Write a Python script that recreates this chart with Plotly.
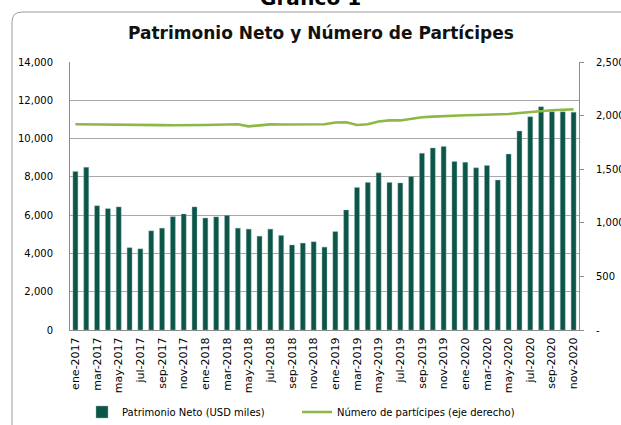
import plotly.graph_objects as go

# ---- data ----
month_abbr = ["ene", "feb", "mar", "abr", "may", "jun", "jul", "ago", "sep", "oct", "nov", "dic"]
years = [2017, 2018, 2019, 2020]
months = [f"{m}-{y}" for y in years for m in month_abbr][:47]  # ene-2017 .. nov-2020

patrimonio = [8280, 8500, 6490, 6340, 6430, 4300, 4240, 5180, 5320, 5920, 6060, 6430,
              5850, 5910, 5990, 5320, 5270, 4900, 5270, 4940, 4440, 4540, 4610, 4330,
              5140, 6270, 7450, 7710, 8210, 7710, 7680, 8020, 9230, 9510, 9590, 8800,
              8760, 8470, 8590, 7830, 9190, 10390, 11140, 11660, 11400, 11400, 11380]

participes = [1920, 1918, 1917, 1915, 1915, 1914, 1914, 1912, 1911, 1910, 1909, 1911,
              1913, 1914, 1916, 1919, 1900, 1910, 1918, 1917, 1918, 1918, 1920, 1920,
              1935, 1937, 1912, 1920, 1945, 1955, 1955, 1972, 1985, 1990, 1996, 2000,
              2003, 2005, 2007, 2009, 2015, 2025, 2035, 2045, 2050, 2055, 2058]

left_ticks = [0, 2000, 4000, 6000, 8000, 10000, 12000, 14000]
right_ticks = [0, 500, 1000, 1500, 2000, 2500]
right_ticktext = ["-", "500", "1,000", "1,500", "2,000", "2,500"]

BAR_COLOR = "#0C5548"
LINE_COLOR = "#8DB846"
GRID = "#A8A8A8"
FONT = "DejaVu Sans"

W, H = 621, 425
ML, MR, MT, MB = 70, 42, 62, 95
PW, PH = W - ML - MR, H - MT - MB


def px_x(px):
    return (px - ML) / PW


def px_y(py):
    return (H - MB - py) / PH


fig = go.Figure()
fig.add_trace(go.Bar(
    x=months, y=patrimonio, name="Patrimonio Neto (USD miles)",
    marker=dict(color=BAR_COLOR, line=dict(color="rgba(150,190,180,0.7)", width=0.6)),
    yaxis="y", legend="legend",
))
fig.add_trace(go.Scatter(
    x=months, y=participes, name="Número de partícipes (eje derecho)",
    mode="lines", line=dict(color=LINE_COLOR, width=2.6), yaxis="y2", legend="legend2",
))

# rounded frame
x0 = px_x(12); yt = px_y(12); r = 10
dx, dy = r / PW, r / PH
xr = px_x(660); yb = px_y(470)
frame_path = (f"M {x0},{yb} L {x0},{yt - dy} Q {x0},{yt} {x0 + dx},{yt} L {xr},{yt}")

legend_common = dict(
    orientation="h", xref="container", yref="container", xanchor="left",
    y=(H - 412) / H, yanchor="middle", font=dict(family=FONT, size=10),
    bgcolor="rgba(0,0,0,0)",
)

fig.update_layout(
    width=W, height=H,
    margin=dict(l=ML, r=MR, t=MT, b=MB, autoexpand=False),
    paper_bgcolor="white", plot_bgcolor="white",
    font=dict(family=FONT, size=10, color="#000000"),
    bargap=0.54,
    showlegend=True,
    legend=dict(x=82 / W, **legend_common),
    legend2=dict(x=297 / W, **legend_common),
    xaxis=dict(
        type="category", tickvals=months[::2], ticktext=months[::2], tickangle=-90,
        tickfont=dict(family=FONT, size=11), showgrid=False, showline=True,
        linecolor="#8C8C8C", linewidth=1, ticks="", ticklabelstandoff=2, automargin=False,
    ),
    yaxis=dict(
        range=[0, 14000], tickvals=left_ticks, tickformat=",", showgrid=True,
        gridcolor=GRID, gridwidth=1, showline=True, linecolor="#8C8C8C", linewidth=1,
        ticks="", zeroline=False, tickfont=dict(family=FONT, size=10), ticklabelstandoff=14,
        automargin=False,
    ),
    yaxis2=dict(
        range=[0, 2500], tickvals=right_ticks, ticktext=right_ticktext, overlaying="y",
        side="right", showgrid=False, showline=True, linecolor="#8C8C8C", linewidth=1,
        ticks="outside", ticklen=4, tickcolor="#8C8C8C", zeroline=False,
        tickfont=dict(family=FONT, size=10), ticklabelstandoff=10, automargin=False,
    ),
    shapes=[dict(type="path", xref="paper", yref="paper", path=frame_path,
                 line=dict(color="#9A9A9A", width=1), layer="below")],
    annotations=[
        dict(text="<b>Patrimonio Neto y Número de Partícipes</b>", xref="paper", yref="paper",
             x=px_x(321), y=px_y(33), xanchor="center", yanchor="middle", showarrow=False,
             font=dict(family=FONT, size=17, color="#111111")),
        dict(text="<b>Gráfico 1</b>", xref="paper", yref="paper",
             x=px_x(310), y=px_y(-2), xanchor="center", yanchor="middle", showarrow=False,
             font=dict(family=FONT, size=20, color="#000000")),
    ],
)

fig.write_html("out.html", config={"displayModeBar": False},
               post_script="document.body.style.margin='0';document.body.style.overflow='hidden';")
